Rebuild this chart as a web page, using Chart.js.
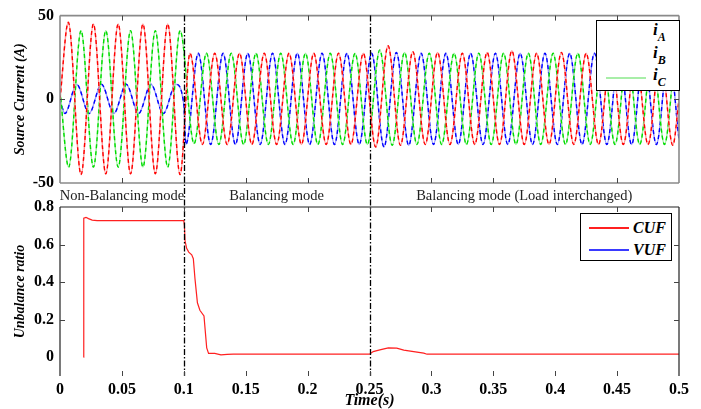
<!DOCTYPE html>
<html>
<head>
<meta charset="utf-8">
<script src="https://cdn.jsdelivr.net/npm/chart.js@4.4.0/dist/chart.umd.min.js"></script>
<style>
  html, body { margin: 0; padding: 0; background: #fff; }
  #wrap { position: relative; width: 701px; height: 409px; overflow: hidden; }
  canvas { position: absolute; left: 0; top: 0; }
  .mode { position: absolute; top: 186px; font: 14.5px "Liberation Serif", serif; color: #222;
          transform: translateX(-50%); white-space: nowrap; line-height: 18px; }
  .legend { position: absolute; background: #fff; border: 1px solid #000; box-sizing: border-box; }
  .lt { position: absolute; left: 56px; font: bold italic 17px "Liberation Serif", serif; line-height: 17px; color: #000; }
  .lt sub { font-size: 12px; vertical-align: -6px; line-height: 0; }
  .sample { position: absolute; height: 1.5px; }
  .lb { position: absolute; left: 52px; font: bold italic 16px "Liberation Serif", serif; line-height: 16px; color: #000; }
</style>
</head>
<body>
<div id="wrap">
  <canvas id="currents" width="701" height="409"></canvas>
  <canvas id="ratios" width="701" height="409"></canvas>
  <div class="legend" style="left:596px; top:20px; width:84px; height:71px;">
    <div class="lt" style="top:0px">i<sub>A</sub></div>
    <div class="lt" style="top:23px">i<sub>B</sub></div>
    <div class="lt" style="top:45px">i<sub>C</sub></div>
    <span class="sample" style="left:9px; width:40px; top:56px; background:#a8eea8;"></span>
  </div>
  <div class="legend" style="left:580px; top:213px; width:92px; height:48px;">
    <span class="sample" style="left:8px; width:40px; top:13px; background:#ff2020;"></span>
    <div class="lb" style="top:6px">CUF</div>
    <span class="sample" style="left:8px; width:40px; top:35px; background:#3a3aff;"></span>
    <div class="lb" style="top:28px">VUF</div>
  </div>
</div>
<script>
"use strict";

const xTicks = [0, 0.05, 0.1, 0.15, 0.2, 0.25, 0.3, 0.35, 0.4, 0.45, 0.5];
const currentTicks = [-50, 0, 50];
const ratioTicks = [0, 0.2, 0.4, 0.6, 0.8];

const modeEdges = [0, 0.1, 0.25, 0.5];
const modeNames = ['Non-Balancing mode', 'Balancing mode', 'Balancing mode (Load interchanged)'];

// peaks / troughs of the source currents: [time (s), current (A)]
const iA = [
    [0, 0], [0.0067, 46], [0.017, -45], [0.027, 45], [0.037, -44.5], [0.047, 45], [0.057, -44.5],
    [0.067, 45], [0.077, -44.5], [0.087, 45], [0.097, -45],
    [0.105, 27.5], [0.115, -27], [0.125, 27.5], [0.135, -27], [0.145, 27.5], [0.155, -27],
    [0.165, 27.5], [0.175, -27], [0.185, 27.5], [0.195, -27], [0.205, 27.5], [0.215, -27],
    [0.225, 27.5], [0.235, -27], [0.245, 27.5],
    [0.255, -28.5], [0.265, 32], [0.275, -27.5], [0.285, 28.5], [0.295, -27], [0.305, 28],
    [0.315, -27], [0.325, 27.5], [0.335, -27], [0.345, 28], [0.355, -27], [0.365, 29],
    [0.375, -27], [0.385, 27.5], [0.395, -27], [0.405, 28], [0.415, -27], [0.425, 27.5],
    [0.435, -27], [0.445, 27.5], [0.455, -27], [0.465, 28], [0.475, -27], [0.485, 27.5],
    [0.495, -27.5], [0.5, 0]
];
const iB = [
    [0, 5], [0.007, -40.5], [0.017, 41], [0.027, -40.5], [0.037, 41], [0.047, -40.5], [0.057, 41],
    [0.067, -40.5], [0.077, 41], [0.087, -40.5], [0.097, 41],
    [0.1083, -26.5], [0.1183, 27.5], [0.1283, -27], [0.1383, 27.5], [0.1483, -27], [0.1583, 27.5],
    [0.1683, -27], [0.1783, 27.5], [0.1883, -27], [0.1983, 27.5], [0.2083, -27], [0.2183, 27.5],
    [0.2283, -27], [0.2383, 27.5], [0.2483, -27],
    [0.2583, 29.5], [0.2683, -27.5], [0.2783, 28], [0.2883, -27], [0.2983, 27.5], [0.3083, -27],
    [0.3183, 27.5], [0.3283, -27], [0.3383, 27.5], [0.3483, -27], [0.3583, 27.5], [0.3683, -27],
    [0.3783, 27.5], [0.3883, -27], [0.3983, 27.5], [0.4083, -27], [0.4183, 27.5], [0.4283, -27],
    [0.4383, 27.5], [0.4483, -27], [0.4583, 27.5], [0.4683, -27], [0.4783, 27.5], [0.4883, -27],
    [0.4983, 27.5], [0.5, 27]
];
const iC = [
    [0, 0], [0.004, -8.5], [0.0135, 9], [0.0235, -8.5], [0.0335, 9], [0.0435, -8.5], [0.0535, 9],
    [0.0635, -8.5], [0.0735, 9], [0.0835, -8.5], [0.0935, 9], [0.1, -3],
    [0.1017, -27], [0.1117, 27.5], [0.1217, -27], [0.1317, 27.5], [0.1417, -27], [0.1517, 27.5],
    [0.1617, -27], [0.1717, 27.5], [0.1817, -27], [0.1917, 27.5], [0.2017, -27], [0.2117, 27.5],
    [0.2217, -27], [0.2317, 27.5], [0.2417, -27], [0.2517, 27.5],
    [0.2617, -28.5], [0.2717, 28], [0.2817, -27.5], [0.2917, 27.5], [0.3017, -27], [0.3117, 27.5],
    [0.3217, -27], [0.3317, 27.5], [0.3417, -27], [0.3517, 27.5], [0.3617, -27], [0.3717, 27.5],
    [0.3817, -27], [0.3917, 27.5], [0.4017, -27], [0.4117, 27.5], [0.4217, -27], [0.4317, 27.5],
    [0.4417, -27], [0.4517, 27.5], [0.4617, -27], [0.4717, 27.5], [0.4817, -27], [0.4917, 27.5],
    [0.5, -24]
];

const cufTime = [0.019, 0.0192, 0.021, 0.023, 0.026, 0.03, 0.1, 0.1005, 0.101, 0.1023, 0.104,
    0.1064, 0.1077, 0.109, 0.111, 0.113, 0.1163, 0.1185, 0.12, 0.125, 0.13, 0.135, 0.14,
    0.25, 0.253, 0.256, 0.26, 0.2652, 0.272, 0.2777, 0.2857, 0.2938, 0.2965, 0.5];
const cufValue = [0, 0.74, 0.745, 0.738, 0.73, 0.727, 0.727, 0.70, 0.62, 0.58, 0.56,
    0.545, 0.525, 0.42, 0.29, 0.25, 0.22, 0.05, 0.02, 0.02, 0.013, 0.015, 0.016,
    0.016, 0.03, 0.035, 0.042, 0.05, 0.048, 0.038, 0.03, 0.022, 0.016, 0.016];
const vufTime = [];
const vufValue = [];


const SERIF = '"Liberation Serif", "Times New Roman", serif';
const tickFont = { family: SERIF, size: 16, weight: 'bold' };
const titleFont = { family: SERIF, size: 14, weight: 'bold', style: 'italic', lineHeight: 1 };

const fmt = v => String(+Number(v).toFixed(2));

// box + inward tick marks, the way the matlab axes look
const framePlugin = {
    id: 'frame',
    afterDraw(chart, args, o) {
        const { ctx, chartArea: a, scales } = chart;
        ctx.save();
        ctx.strokeStyle = o.color;
        ctx.lineWidth = o.width;
        ctx.beginPath();
        if (o.sides.includes('top')) { ctx.moveTo(a.left, a.top); ctx.lineTo(a.right, a.top); }
        if (o.sides.includes('bottom')) { ctx.moveTo(a.left, a.bottom); ctx.lineTo(a.right, a.bottom); }
        if (o.sides.includes('left')) { ctx.moveTo(a.left, a.top); ctx.lineTo(a.left, a.bottom); }
        if (o.sides.includes('right')) { ctx.moveTo(a.right, a.top); ctx.lineTo(a.right, a.bottom); }
        ctx.stroke();

        ctx.strokeStyle = o.tickColor;
        ctx.lineWidth = 1;
        ctx.beginPath();
        o.xTicks.forEach(v => {
            const px = Math.round(scales.x.getPixelForValue(v)) + 0.5;
            ctx.moveTo(px, a.top); ctx.lineTo(px, a.top + 5);
            ctx.moveTo(px, a.bottom); ctx.lineTo(px, a.bottom - 5);
        });
        o.yTicks.forEach(v => {
            const py = Math.round(scales.y.getPixelForValue(v)) + 0.5;
            ctx.moveTo(a.left, py); ctx.lineTo(a.left + 5, py);
            ctx.moveTo(a.right, py); ctx.lineTo(a.right - 5, py);
        });
        ctx.stroke();
        ctx.restore();
    }
};

// dash-dot lines where the operating mode changes
const switchPlugin = {
    id: 'switches',
    afterDatasetsDraw(chart, args, o) {
        const { ctx, chartArea: a, scales: { x } } = chart;
        ctx.save();
        ctx.strokeStyle = '#000';
        ctx.lineWidth = 1.3;
        ctx.setLineDash([6, 2, 1.5, 2]);
        o.at.forEach(v => {
            const px = Math.round(x.getPixelForValue(v)) + 0.5;
            ctx.beginPath();
            ctx.moveTo(px, o.top);
            ctx.lineTo(px, a.bottom);
            ctx.stroke();
        });
        ctx.restore();
    }
};

function phase(points, dark, light) {
    const base = { data: points, pointRadius: 0, borderWidth: 1.4, cubicInterpolationMode: 'monotone', fill: false };
    return [
        Object.assign({}, base, { borderColor: dark, borderDash: [4, 3] }),
        Object.assign({}, base, { borderColor: light })
    ];
}

const topChart = new Chart(document.getElementById('currents'), {
    type: 'line',
    data: {
        datasets: [
            ...phase(iA, '#ff0000', '#ff9a9a'),
            ...phase(iB, '#00dd00', '#9cee9c'),
            ...phase(iC, '#0000ff', '#9a9aff')
        ]
    },
    plugins: [framePlugin],
    options: {
        responsive: false,
        animation: false,
        devicePixelRatio: 1,
        layout: { padding: { left: 0, top: 14, right: 22, bottom: 226 } },
        plugins: {
            legend: { display: false },
            tooltip: { enabled: false },
            frame: { sides: ['top', 'bottom', 'left', 'right'], color: '#8a8a8a', width: 1.6,
                     tickColor: '#444', xTicks: xTicks.slice(1, -1), yTicks: [0] }
        },
        scales: {
            x: {
                type: 'linear', min: 0, max: 0.5,
                ticks: { display: false },
                grid: { display: false, drawTicks: false },
                border: { display: false },
                afterFit: s => { s.height = 0; }
            },
            y: {
                min: -50, max: 50,
                afterBuildTicks: s => { s.ticks = currentTicks.map(v => ({ value: v })); },
                ticks: { font: tickFont, color: '#000', padding: 6, callback: fmt },
                grid: { display: false, drawTicks: false },
                border: { display: false },
                title: { display: true, text: 'Source Current (A)', font: titleFont, color: '#000',
                         padding: { top: 13, bottom: 0 } },
                afterFit: s => { s.width = 60; }
            }
        }
    }
});

const bottomChart = new Chart(document.getElementById('ratios'), {
    type: 'line',
    data: {
        datasets: [
            { label: 'CUF', data: cufTime.map((t, i) => ({ x: t, y: cufValue[i] })),
              borderColor: '#ff2020', borderWidth: 1.2, pointRadius: 0, fill: false },
            { label: 'VUF', data: vufTime.map((t, i) => ({ x: t, y: vufValue[i] })),
              borderColor: '#2020ff', borderWidth: 1.2, pointRadius: 0, fill: false }
        ]
    },
    plugins: [framePlugin, switchPlugin],
    options: {
        responsive: false,
        animation: false,
        devicePixelRatio: 1,
        layout: { padding: { left: 0, top: 207, right: 22, bottom: 0 } },
        plugins: {
            legend: { display: false },
            tooltip: { enabled: false },
            frame: { sides: ['top', 'left', 'right'], color: '#222', width: 1.2,
                     tickColor: '#444', xTicks: xTicks.slice(1, -1), yTicks: ratioTicks.slice(1, -1) },
            switches: { at: [0.1, 0.25], top: topChart.chartArea.top }
        },
        scales: {
            x: {
                type: 'linear', min: 0, max: 0.5,
                afterBuildTicks: s => { s.ticks = xTicks.map(v => ({ value: v })); },
                ticks: { font: tickFont, color: '#000', padding: 4, maxRotation: 0, autoSkip: false, callback: fmt },
                grid: { display: false, drawTicks: false },
                border: { display: false },
                title: { display: true, text: 'Time(s)', font: { family: SERIF, size: 16, weight: 'bold', style: 'italic', lineHeight: 1 },
                         color: '#000', padding: { top: 0, bottom: 0 } },
                afterFit: s => { s.height = 33; }
            },
            y: {
                min: -0.1, max: 0.8,
                afterBuildTicks: s => { s.ticks = ratioTicks.map(v => ({ value: v })); },
                ticks: { font: tickFont, color: '#000', padding: 6, callback: fmt },
                grid: { display: false, drawTicks: false },
                border: { display: false },
                title: { display: true, text: 'Unbalance ratio', font: titleFont, color: '#000',
                         padding: { top: 13, bottom: 0 } },
                afterFit: s => { s.width = 60; }
            }
        }
    }
});

// mode names centred in each interval
const wrap = document.getElementById('wrap');
modeNames.forEach((name, i) => {
    const el = document.createElement('div');
    el.className = 'mode';
    el.textContent = name;
    const mid = (modeEdges[i] + modeEdges[i + 1]) / 2;
    el.style.left = bottomChart.scales.x.getPixelForValue(mid) + 'px';
    wrap.appendChild(el);
});
</script>
</body>
</html>
